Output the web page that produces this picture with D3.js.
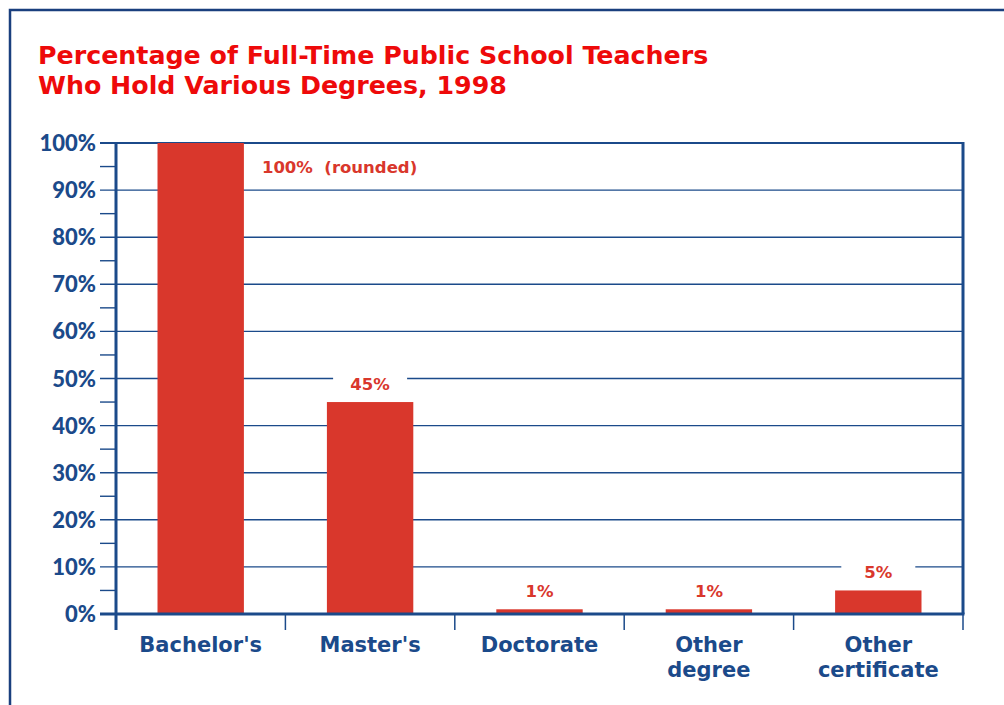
<!DOCTYPE html>
<html>
<head>
<meta charset="utf-8">
<script src="https://cdn.jsdelivr.net/npm/d3@7"></script>
<style>
  body { margin: 0; background: #fff; }
  svg { display: block; font-family: "DejaVu Sans", sans-serif; }
</style>
</head>
<body>
<svg id="chart" width="1004" height="705"></svg>
<script>
// data
var categories = ["Bachelor's", "Master's", "Doctorate", "Other degree", "Other certificate"];
var catLines = [["Bachelor's"], ["Master's"], ["Doctorate"], ["Other", "degree"], ["Other", "certificate"]];
var values = [100, 45, 1, 1, 5];
var valueLabels = ["100%  (rounded)", "45%", "1%", "1%", "5%"];
var yTicks = [0, 10, 20, 30, 40, 50, 60, 70, 80, 90, 100];
var titleLines = ["Percentage of Full-Time Public School Teachers", "Who Hold Various Degrees, 1998"];

var navy = '#1b4a8a',
    barRed = '#d9372c',
    titleRed = '#ee0a0a';

var margin = {top: 143, left: 116},
    chartWidth = 847,
    chartHeight = 471;

var svg = d3.select('#chart');

// outer frame (runs off right and bottom edges)
svg.append('path')
  .attr('d', 'M10,710 L10,10 L1010,10')
  .attr('fill', 'none')
  .attr('stroke', '#1a3f7e')
  .attr('stroke-width', 2.5);

// title
svg.append('g').selectAll('text')
  .data(titleLines)
  .join('text')
    .attr('x', 38)
    .attr('y', function(d, i) { return 64 + i * 30; })
    .attr('fill', titleRed)
    .attr('font-size', 25.3)
    .attr('font-weight', 'bold')
    .text(function(d) { return d; });

var x = d3.scaleBand().domain(categories).range([0, chartWidth]).paddingInner(0.49).paddingOuter(0.245);
var xOuter = d3.scaleBand().domain(categories).range([0, chartWidth]);
var y = d3.scaleLinear().domain([0, 100]).range([chartHeight, 0]);

var chartG = svg.append('g')
  .attr('transform', 'translate(' + margin.left + ',' + margin.top + ')');

// gridlines + major ticks
chartG.append('g').selectAll('line')
  .data(yTicks)
  .join('line')
    .attr('x1', -16).attr('x2', chartWidth)
    .attr('y1', function(d) { return y(d); })
    .attr('y2', function(d) { return y(d); })
    .attr('stroke', navy)
    .attr('stroke-width', function(d) { return d === 100 ? 2.2 : 1.4; });

// minor ticks
chartG.append('g').selectAll('line')
  .data(yTicks.slice(0, -1).map(function(d) { return d + 5; }))
  .join('line')
    .attr('x1', -16).attr('x2', 0)
    .attr('y1', function(d) { return y(d); })
    .attr('y2', function(d) { return y(d); })
    .attr('stroke', navy)
    .attr('stroke-width', 1.4);

// y labels
chartG.append('g').selectAll('text')
  .data(yTicks)
  .join('text')
    .attr('x', -20)
    .attr('y', function(d) { return y(d) + 8; })
    .attr('text-anchor', 'end')
    .attr('fill', navy)
    .attr('font-family', 'Lato, sans-serif')
    .attr('font-size', 22)
    .attr('font-weight', 900)
    .text(function(d) { return d + '%'; });

// bars
chartG.append('g').selectAll('rect')
  .data(values)
  .join('rect')
    .attr('x', function(d, i) { return x(categories[i]); })
    .attr('width', x.bandwidth())
    .attr('y', function(d) { return y(d); })
    .attr('height', function(d) { return chartHeight - y(d); })
    .attr('fill', barRed);

// value labels with white backing over gridlines
var labG = chartG.append('g').selectAll('g')
  .data(values)
  .join('g')
    .attr('transform', function(d, i) {
      if (i === 0) return 'translate(' + (x(categories[i]) + x.bandwidth() + 18) + ',' + (y(d) + 30) + ')';
      return 'translate(' + (x(categories[i]) + x.bandwidth() / 2) + ',' + (y(d) - 12) + ')';
    });

labG.filter(function(d, i) { return i > 0; })
  .append('rect')
    .attr('x', -37).attr('width', 74)
    .attr('y', -20).attr('height', 26)
    .attr('fill', '#fff');

labG.append('text')
  .attr('text-anchor', function(d, i) { return i === 0 ? 'start' : 'middle'; })
  .attr('fill', barRed)
  .attr('font-size', 16.5)
  .attr('font-weight', 'bold')
  .attr('xml:space', 'preserve')
  .style('white-space', 'pre')
  .text(function(d, i) { return valueLabels[i]; });

// frame: right border
chartG.append('line')
  .attr('x1', chartWidth).attr('x2', chartWidth)
  .attr('y1', -1).attr('y2', chartHeight)
  .attr('stroke', navy).attr('stroke-width', 3);

// y axis line
chartG.append('line')
  .attr('x1', 0).attr('x2', 0)
  .attr('y1', -1).attr('y2', chartHeight + 16)
  .attr('stroke', navy).attr('stroke-width', 3);

// x axis line
chartG.append('line')
  .attr('x1', -16).attr('x2', chartWidth + 1.5)
  .attr('y1', chartHeight).attr('y2', chartHeight)
  .attr('stroke', navy).attr('stroke-width', 3);

// category boundary ticks
chartG.append('g').selectAll('line')
  .data(categories.slice(1).concat(['end']))
  .join('line')
    .attr('x1', function(d) { return d === 'end' ? chartWidth : xOuter(d); })
    .attr('x2', function(d) { return d === 'end' ? chartWidth : xOuter(d); })
    .attr('y1', chartHeight).attr('y2', chartHeight + 16)
    .attr('stroke', navy).attr('stroke-width', 1.5);

// x labels, one text per line
var xLab = [];
catLines.forEach(function(lines, i) {
  lines.forEach(function(l, j) { xLab.push({cat: categories[i], text: l, line: j}); });
});
chartG.append('g').selectAll('text')
  .data(xLab)
  .join('text')
    .attr('x', function(d) { return xOuter(d.cat) + xOuter.bandwidth() / 2; })
    .attr('y', function(d) { return chartHeight + 38 + d.line * 24.5; })
    .attr('text-anchor', 'middle')
    .attr('fill', navy)
    .attr('font-size', 21)
    .attr('font-weight', 'bold')
    .text(function(d) { return d.text; });
</script>
</body>
</html>
